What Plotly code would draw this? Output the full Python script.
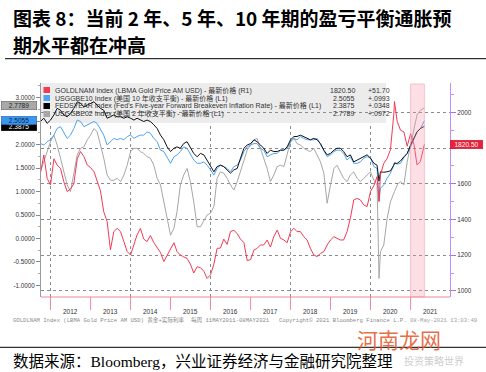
import pandas as pd
import plotly.graph_objects as go

# ---------------- data ----------------
monthly = list(pd.date_range("2011-10-01", "2021-04-01", freq="MS").strftime("%Y-%m-%d"))
extra_dates = ["2020-03-19", "2020-08-07", "2021-05-07"]
dates = sorted(monthly + extra_dates)

gold = [1660, 1761, 1630,
        1593, 1740, 1705, 1686, 1612, 1556, 1570, 1600, 1740, 1780, 1752, 1705,
        1690, 1668, 1612, 1560, 1443, 1388, 1230, 1332, 1350, 1332, 1276, 1220,
        1201, 1257, 1313, 1350, 1290, 1276, 1310, 1270, 1240, 1215, 1164, 1200,
        1240, 1270, 1220, 1201, 1190, 1182, 1150, 1100, 1135, 1130, 1110, 1070,
        1090, 1150, 1238, 1240, 1290, 1260, 1332, 1340, 1320, 1290, 1270, 1170,
        1175, 1229, 1238, 1257, 1257, 1285, 1245, 1304, 1340, 1294, 1285, 1270,
        1332, 1350, 1332, 1332, 1304, 1285, 1238, 1201, 1192, 1210, 1220, 1257,
        1285, 1304, 1294, 1285, 1285, 1332, 1406, 1509, 1518, 1509, 1481, 1472,
        1556, 1590, 1640, 1500, 1650, 1714, 1742, 1790, 1990, 2060, 1948, 1900, 1890, 1810,
        1880, 1820, 1705, 1725, 1820.50]

be10 = [2.02, 1.99, 2.06,
        2.10, 2.20, 2.34, 2.38, 2.27, 2.13, 2.20, 2.34, 2.52, 2.49, 2.38, 2.42,
        2.45, 2.49, 2.45, 2.31, 2.20, 1.99, 2.06, 2.13, 2.10, 2.13, 2.10, 2.17,
        2.20, 2.13, 2.17, 2.20, 2.20, 2.27, 2.24, 2.13, 2.06, 1.88, 1.85, 1.74,
        1.60, 1.74, 1.78, 1.85, 1.95, 1.92, 1.81, 1.67, 1.60, 1.60, 1.63, 1.56,
        1.46, 1.35, 1.49, 1.56, 1.53, 1.49, 1.42, 1.53, 1.56, 1.67, 1.85, 1.95,
        1.99, 2.02, 2.02, 1.92, 1.88, 1.74, 1.78, 1.81, 1.81, 1.88, 1.88, 1.92,
        2.06, 2.13, 2.10, 2.17, 2.13, 2.10, 2.10, 2.10, 2.13, 1.99, 1.85, 1.74,
        1.78, 1.85, 1.88, 1.88, 1.81, 1.67, 1.74, 1.60, 1.60, 1.63, 1.71, 1.74,
        1.71, 1.53, 1.49, 0.80, 1.07, 1.14, 1.28, 1.39, 1.56, 1.62, 1.58, 1.60, 1.72, 1.81,
        1.95, 2.13, 2.27, 2.34, 2.5055]

fwd5y5y = [2.49, 2.56, 2.45,
           2.52, 2.63, 2.77, 2.73, 2.63, 2.59, 2.66, 2.77, 2.91, 2.88, 2.80, 2.84,
           2.88, 2.91, 2.84, 2.77, 2.73, 2.56, 2.59, 2.63, 2.59, 2.59, 2.56, 2.59,
           2.56, 2.52, 2.56, 2.52, 2.49, 2.52, 2.49, 2.42, 2.34, 2.20, 2.10, 1.95,
           1.85, 1.92, 1.95, 1.92, 2.02, 2.06, 1.92, 1.81, 1.74, 1.81, 1.78, 1.67,
           1.56, 1.42, 1.53, 1.56, 1.53, 1.46, 1.39, 1.46, 1.49, 1.71, 1.92, 1.99,
           2.02, 2.10, 2.06, 1.99, 1.92, 1.81, 1.88, 1.85, 1.85, 1.88, 1.88, 1.95,
           2.10, 2.17, 2.17, 2.20, 2.17, 2.13, 2.10, 2.13, 2.10, 2.02, 1.88, 1.78,
           1.81, 1.88, 1.92, 1.92, 1.85, 1.74, 1.78, 1.63, 1.67, 1.71, 1.74, 1.78,
           1.71, 1.60, 1.56, 1.22, 1.42, 1.41, 1.42, 1.44, 1.56, 1.60, 1.60, 1.65, 1.74, 1.81,
           1.99, 2.13, 2.27, 2.34, 2.3875]

be02 = [1.42, 1.63, 1.85,
        2.06, 2.20, 1.99, 1.71, 1.42, 1.14, 1.00, 1.42, 1.78, 1.92, 1.95, 2.10,
        2.20, 2.34, 2.27, 1.99, 1.71, 1.35, 1.24, 1.24, 1.28, 1.21, 1.35, 1.56,
        1.85, 1.92, 1.92, 1.85, 1.81, 1.74, 1.71, 1.56, 1.28, 1.14, 0.78, 0.43,
        0.07, 0.22, 0.57, 1.14, 1.35, 1.49, 1.21, 0.78, 0.25, 0.25, 0.39, 0.50,
        0.54, 0.68, 1.28, 1.42, 1.39, 1.28, 1.14, 1.03, 1.21, 1.42, 1.63, 1.88,
        1.99, 2.10, 2.13, 1.92, 1.71, 1.49, 1.21, 1.35, 1.53, 1.56, 1.53, 1.81,
        2.06, 2.13, 2.02, 1.99, 1.92, 1.88, 1.85, 1.92, 1.78, 1.63, 1.39, 0.75,
        1.14, 1.49, 1.56, 1.42, 1.28, 1.21, 1.35, 1.42, 1.28, 1.21, 1.28, 1.35,
        1.42, 1.24, 1.14, -0.85, -0.28, -0.14, 0.43, 0.78, 0.99, 1.00, 1.14, 1.21, 1.14, 1.63,
        1.99, 2.34, 2.63, 2.73, 2.7789]

years = list(range(2012, 2022))
left_ticks = [-1.0, -0.5, 0.0, 0.5, 1.0, 1.5, 2.0, 2.5, 3.0]
left_labels = ["-1.0000", "-0.5000", "0.0000", "0.5000", "1.0000", "1.5000", "2.0000", "", "3.0000"]
right_ticks = [1000, 1200, 1400, 1600, 1800, 2000]
right_labels = ["1000", "1200", "1400", "1600", "", "2000"]

legend_rows = [
    ("GOLDLNAM Index (LBMA Gold Price AM USD) - 最新价格 (R1)", "1820.50", "+51.70", "#f23a55"),
    ("USGGBE10 Index (美国 10 年收支平衡) - 最新价格 (L1)", "2.5055", "+.0993", "#4da3f5"),
    ("FEDSYEAR Index (Fed's Five-year Forward Breakeven Inflation Rate) - 最新价格 (L1)", "2.3875", "+.0348", "#000000"),
    ("USGGBE02 Index (美国 2 年收支平衡) - 最新价格 (L1)", "2.7789", "+.0972", "#a6a6a6"),
]

# ---------------- geometry helpers ----------------
W, H = 486, 372
def px(x):
    return x / W
def py(y):
    return (H - y) / H

PLOT_L, PLOT_R, PLOT_T, PLOT_B = 41, 450, 83, 297

fig = go.Figure()
fig.add_trace(go.Scatter(x=dates, y=be02, mode="lines", line=dict(color="#a6a6a6", width=1), yaxis="y", hoverinfo="skip"))
fig.add_trace(go.Scatter(x=dates, y=be10, mode="lines", line=dict(color="#4da3f5", width=1), yaxis="y", hoverinfo="skip"))
fig.add_trace(go.Scatter(x=dates, y=fwd5y5y, mode="lines", line=dict(color="#111111", width=1), yaxis="y", hoverinfo="skip"))
fig.add_trace(go.Scatter(x=dates, y=gold, mode="lines", line=dict(color="#f23a55", width=1), yaxis="y2", hoverinfo="skip"))

shapes = []
for yr in [2012, 2014, 2016, 2018, 2020]:
    shapes.append(dict(type="line", xref="x", yref="paper", x0=f"{yr}-01-01", x1=f"{yr}-01-01",
                       y0=py(PLOT_B), y1=py(PLOT_T), line=dict(color="#8c8c8c", width=1, dash="dot"), layer="between"))
shapes.append(dict(type="rect", xref="paper", yref="paper", x0=px(41), x1=px(386), y0=py(123), y1=py(83),
                   fillcolor="#ececec", line=dict(width=0), layer="between"))
for i, row in enumerate(legend_rows):
    yc = 90 + 8 * i
    shapes.append(dict(type="rect", xref="paper", yref="paper", x0=px(43.5), x1=px(50), y0=py(yc + 3), y1=py(yc - 3),
                       fillcolor=row[3], line=dict(width=0), layer="above"))
shapes.append(dict(type="rect", xref="x", yref="paper", x0="2021-01-01", x1="2021-05-07", y0=py(PLOT_B), y1=py(PLOT_T + 1),
                   fillcolor="rgba(248,150,170,0.30)", line=dict(color="rgba(240,150,165,0.5)", width=1), layer="above"))
shapes.append(dict(type="line", xref="paper", yref="paper", x0=px(PLOT_L), x1=px(PLOT_R), y0=py(PLOT_B), y1=py(PLOT_B),
                   line=dict(color="#f08a9a", width=1.2), layer="above"))
for yr in years + [2022]:
    shapes.append(dict(type="line", xref="x", yref="paper", x0=f"{yr}-01-01", x1=f"{yr}-01-01",
                       y0=py(PLOT_B), y1=py(310), line=dict(color="#f08a9a", width=1), layer="above"))
shapes.append(dict(type="line", xref="paper", yref="paper", x0=px(5), x1=1, y0=py(58.7), y1=py(58.7),
                   line=dict(color="#000", width=1)))
shapes.append(dict(type="line", xref="paper", yref="paper", x0=0, x1=1, y0=py(347.3), y1=py(347.3),
                   line=dict(color="#000", width=1)))

ann = []
TITLE_FONT = "Noto Sans CJK SC"
ann.append(dict(text="<b>图表 8：当前 2 年、5 年、10 年期的盈亏平衡通胀预</b>", x=px(11), y=py(18), xref="paper", yref="paper",
                xanchor="left", yanchor="middle", showarrow=False, font=dict(family=TITLE_FONT, size=19, color="#000")))
ann.append(dict(text="<b>期水平都在冲高</b>", x=px(11), y=py(44), xref="paper", yref="paper",
                xanchor="left", yanchor="middle", showarrow=False, font=dict(family=TITLE_FONT, size=19, color="#000")))

LF = "Liberation Sans, Noto Sans CJK SC"
for i, (label, val, chg, col) in enumerate(legend_rows):
    yc = 90 + 8 * i
    ann.append(dict(text=label, x=px(52.5), y=py(yc), xref="paper", yref="paper", xanchor="left", yanchor="middle",
                    showarrow=False, font=dict(family=LF, size=7, color="#333")))
    ann.append(dict(text=val, x=px(357), y=py(yc), xref="paper", yref="paper", xanchor="right", yanchor="middle",
                    showarrow=False, font=dict(family=LF, size=7, color="#333")))
    ann.append(dict(text=chg, x=px(366), y=py(yc), xref="paper", yref="paper", xanchor="left", yanchor="middle",
                    showarrow=False, font=dict(family=LF, size=7, color="#333")))

for yr in years:
    ann.append(dict(text=str(yr), x=f"{yr}-07-02", y=py(311), xref="x", yref="paper", xanchor="center", yanchor="middle",
                    showarrow=False, font=dict(family="Liberation Sans", size=6.5, color="#333")))

FF = "Liberation Mono, Noto Sans CJK SC"
ann.append(dict(text="GOLDLNAM Index (LBMA Gold Price AM USD) 黄金+实际利率  每周 11MAY2011-08MAY2021", x=px(11), y=py(320),
                xref="paper", yref="paper", xanchor="left", yanchor="middle", showarrow=False,
                font=dict(family=FF, size=5.6, color="#8a8a8a")))
ann.append(dict(text="Copyright© 2021 Bloomberg Finance L.P.", x=px(277), y=py(320),
                xref="paper", yref="paper", xanchor="left", yanchor="middle", showarrow=False,
                font=dict(family=FF, size=5.6, color="#8a8a8a")))
ann.append(dict(text="08-May-2021 13:03:49", x=px(479), y=py(320),
                xref="paper", yref="paper", xanchor="right", yanchor="middle", showarrow=False,
                font=dict(family=FF, size=5.6, color="#a0a0a0")))

ann.append(dict(text="2.3875", x=px(19), y=2.3875, xref="paper", yref="y", xanchor="center", yanchor="middle",
                showarrow=False, bgcolor="#000", bordercolor="#000", borderwidth=0.5, borderpad=0.5,
                width=34, font=dict(family=LF, size=6.5, color="#fff")))
ann.append(dict(text="2.5055", x=px(19), y=2.5055, xref="paper", yref="y", xanchor="center", yanchor="middle",
                showarrow=False, bgcolor="#3b96f0", bordercolor="#1d5fa8", borderwidth=0.5, borderpad=0.5,
                width=34, font=dict(family=LF, size=6.5, color="#0b2545")))
ann.append(dict(text="2.7789", x=px(19), y=2.7789, yshift=2, xref="paper", yref="y", xanchor="center", yanchor="middle",
                showarrow=False, bgcolor="#a9a9a9", bordercolor="#555", borderwidth=0.5, borderpad=0.5,
                width=34, font=dict(family=LF, size=6.5, color="#222")))
ann.append(dict(text="1820.50", x=px(466), y=1820.5, xref="paper", yref="y2", xanchor="center", yanchor="middle",
                showarrow=False, bgcolor="#e8203a", bordercolor="#c0102a", borderwidth=0.5, borderpad=0.5,
                width=31, font=dict(family=LF, size=6.6, color="#fff")))

ann.append(dict(text="数据来源：Bloomberg，兴业证券经济与金融研究院整理", x=px(11), y=py(361), xref="paper", yref="paper",
                xanchor="left", yanchor="middle", showarrow=False,
                font=dict(family="Liberation Serif, Noto Sans CJK SC", size=15.5, color="#000")))
ann.append(dict(text="河南龙网", x=px(399), y=py(339), xref="paper", yref="paper", xanchor="center", yanchor="middle",
                showarrow=False, font=dict(family="Noto Sans CJK SC", size=21, color="rgba(228,92,50,0.9)")))
ann.append(dict(text="投资策略世界", x=px(434), y=py(360), xref="paper", yref="paper", xanchor="center", yanchor="middle",
                showarrow=False, font=dict(family="Noto Sans CJK SC", size=10, color="rgba(160,160,160,0.55)")))

fig.update_layout(
    width=W, height=H, margin=dict(l=0, r=0, t=0, b=0),
    paper_bgcolor="#ffffff", plot_bgcolor="#ffffff", showlegend=False,
    xaxis=dict(domain=[px(PLOT_L), px(PLOT_R)], type="date", range=["2011-10-06", "2021-12-27"],
               showgrid=False, showticklabels=False, ticks="", showline=False, zeroline=False),
    yaxis=dict(domain=[py(PLOT_B), py(PLOT_T)], range=[-1.245, 3.309], tickvals=left_ticks, ticktext=left_labels,
               ticks="outside", ticklen=4, tickcolor="#888", showline=True, linecolor="#9a9a9a", linewidth=1,
               showgrid=False, zeroline=False, tickfont=dict(family="Liberation Sans", size=6.3, color="#333"),
               minor=dict(ticks="outside", ticklen=2, tickcolor="#aaa", dtick=0.25, showgrid=False)),
    yaxis2=dict(overlaying="y", side="right", anchor="x", range=[965.7, 2164.1], tickvals=right_ticks, ticktext=right_labels,
                showgrid=True, griddash="dot", gridcolor="#8c8c8c", gridwidth=1, zeroline=False,
                showline=True, linecolor="#c58cf5", linewidth=1.2, ticks="outside", ticklen=5, tickcolor="#b36bff",
                tickfont=dict(family="Liberation Sans", size=6.3, color="#333"),
                minor=dict(ticks="outside", ticklen=3, tickcolor="#c58cf5", dtick=100, showgrid=False)),
    shapes=shapes, annotations=ann,
)

fig.write_html("out.html", config={"displayModeBar": False},
               post_script="document.body.style.margin='0';document.body.style.padding='0';document.body.style.overflow='hidden';")
